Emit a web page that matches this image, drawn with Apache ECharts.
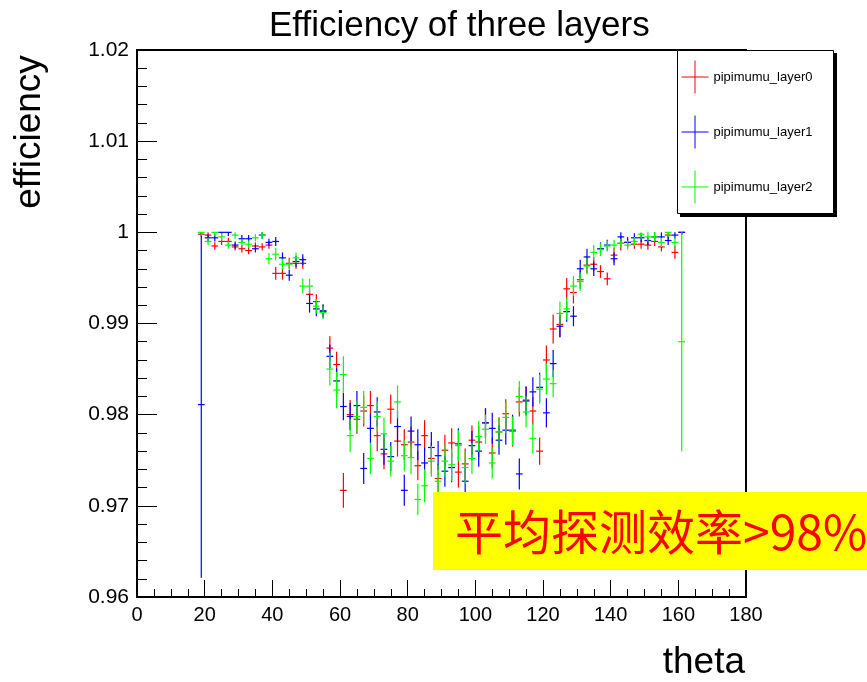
<!DOCTYPE html>
<html>
<head>
<meta charset="utf-8">
<script src="https://cdn.jsdelivr.net/npm/echarts@6/dist/echarts.min.js"></script>
<style>
  html, body { margin: 0; padding: 0; background: #fff; }
  #main { width: 867px; height: 682px; }
</style>
</head>
<body>
<div id="main"></div>
<script>
// theta bin centres (deg)
var theta = [19, 21, 23, 25, 27, 29, 31, 33, 35, 37, 39, 41, 43, 45, 47, 49, 51, 53, 55, 57,
  59, 61, 63, 65, 67, 69, 71, 73, 75, 77, 79, 81, 83, 85, 87, 89, 91, 93, 95, 97,
  99, 101, 103, 105, 107, 109, 111, 113, 115, 117, 119, 121, 123, 125, 127, 129, 131, 133, 135, 137,
  139, 141, 143, 145, 147, 149, 151, 153, 155, 157, 159, 161];

// efficiency, layer 0
var effLayer0 = [0.9998, 0.9997, 0.9985, 0.9990, 0.9990, 0.9984, 0.9982, 0.9980, 0.9985, 0.9984,
  0.9986, 0.9955, 0.9955, 0.9966, 0.9966, 0.9966, 0.9932, 0.9924, 0.9913, 0.9873,
  0.9855, 0.9717, 0.9800, 0.9795, 0.9804, 0.9810, 0.9777, 0.9757, 0.9806, 0.9771,
  0.9767, 0.9770, 0.9744, 0.9777, 0.9752, 0.9730, 0.9761, 0.9769, 0.9737, 0.9746,
  0.9772, 0.9770, 0.9791, 0.9758, 0.9781, 0.9801, 0.9782, 0.9814, 0.9816, 0.9804,
  0.9760, 0.9860, 0.9894, 0.9899, 0.9938, 0.9934, 0.9948, 0.9964, 0.9965, 0.9957,
  0.9949, 0.9975, 0.9988, 0.9989, 0.9987, 0.9987, 0.9986, 0.9990, 0.9984, 0.9997,
  0.9978, 1.0000];
var errLayer0 = [0.0003, 0.0004, 0.0004, 0.0004, 0.0004, 0.0004, 0.0004, 0.0004, 0.0004, 0.0004,
  0.0004, 0.0007, 0.0007, 0.0006, 0.0006, 0.0006, 0.0008, 0.0008, 0.0007, 0.0013,
  0.0014, 0.0019, 0.0016, 0.0016, 0.0017, 0.0016, 0.0017, 0.0017, 0.0016, 0.0017,
  0.0017, 0.0017, 0.0016, 0.0017, 0.0017, 0.0016, 0.0017, 0.0016, 0.0017, 0.0017,
  0.0016, 0.0017, 0.0016, 0.0017, 0.0016, 0.0016, 0.0017, 0.0016, 0.0015, 0.0015,
  0.0015, 0.0016, 0.0016, 0.0014, 0.0012, 0.0012, 0.0010, 0.0009, 0.0008, 0.0007,
  0.0007, 0.0008, 0.0008, 0.0006, 0.0005, 0.0005, 0.0005, 0.0005, 0.0005, 0.0005,
  0.0007, 0.0003];

// efficiency, layer 1
var effLayer1 = [0.9811, 0.9994, 0.9994, 1.0000, 1.0000, 0.9986, 0.9993, 0.9993, 0.9982, 0.9997,
  0.9989, 0.9990, 0.9972, 0.9953, 0.9968, 0.9970, 0.9922, 0.9916, 0.9914, 0.9864,
  0.9837, 0.9809, 0.9798, 0.9810, 0.9741, 0.9785, 0.9803, 0.9762, 0.9754, 0.9787,
  0.9717, 0.9782, 0.9767, 0.9747, 0.9764, 0.9755, 0.9738, 0.9742, 0.9768, 0.9727,
  0.9766, 0.9760, 0.9791, 0.9785, 0.9772, 0.9783, 0.9783, 0.9735, 0.9815, 0.9825,
  0.9830, 0.9802, 0.9856, 0.9897, 0.9913, 0.9908, 0.9960, 0.9973, 0.9960, 0.9982,
  0.9986, 0.9971, 0.9995, 0.9989, 0.9994, 0.9994, 0.9991, 0.9995, 0.9995, 0.9991,
  0.9997, 1.0000];
var errLayer1 = [0.0190, 0.0004, 0.0004, 0.0004, 0.0004, 0.0004, 0.0004, 0.0004, 0.0004, 0.0004,
  0.0004, 0.0005, 0.0006, 0.0006, 0.0006, 0.0006, 0.0010, 0.0008, 0.0007, 0.0013,
  0.0014, 0.0015, 0.0015, 0.0016, 0.0017, 0.0016, 0.0016, 0.0017, 0.0016, 0.0017,
  0.0017, 0.0016, 0.0017, 0.0017, 0.0017, 0.0016, 0.0017, 0.0016, 0.0017, 0.0017,
  0.0016, 0.0017, 0.0016, 0.0017, 0.0016, 0.0016, 0.0017, 0.0017, 0.0016, 0.0016,
  0.0016, 0.0016, 0.0015, 0.0012, 0.0011, 0.0011, 0.0010, 0.0009, 0.0008, 0.0007,
  0.0006, 0.0007, 0.0005, 0.0005, 0.0005, 0.0005, 0.0005, 0.0005, 0.0005, 0.0005,
  0.0004, 0.0003];

// efficiency, layer 2
var effLayer2 = [1.0000, 0.9990, 1.0000, 0.9995, 0.9986, 0.9997, 0.9989, 0.9987, 0.9994, 0.9997,
  0.9971, 0.9976, 0.9965, 0.9965, 0.9972, 0.9941, 0.9941, 0.9919, 0.9912, 0.9850,
  0.9827, 0.9844, 0.9777, 0.9798, 0.9808, 0.9752, 0.9798, 0.9779, 0.9749, 0.9814,
  0.9755, 0.9753, 0.9707, 0.9722, 0.9749, 0.9727, 0.9749, 0.9745, 0.9766, 0.9742,
  0.9752, 0.9776, 0.9784, 0.9747, 0.9781, 0.9797, 0.9782, 0.9820, 0.9803, 0.9774,
  0.9828, 0.9839, 0.9834, 0.9911, 0.9916, 0.9941, 0.9946, 0.9963, 0.9978, 0.9981,
  0.9985, 0.9986, 0.9988, 0.9986, 0.9990, 0.9998, 0.9995, 0.9995, 0.9989, 1.0000,
  0.9989, 0.9880];
var errLayer2 = [0.0004, 0.0004, 0.0004, 0.0004, 0.0004, 0.0004, 0.0004, 0.0004, 0.0004, 0.0004,
  0.0006, 0.0007, 0.0006, 0.0006, 0.0006, 0.0008, 0.0008, 0.0008, 0.0007, 0.0018,
  0.0020, 0.0020, 0.0018, 0.0017, 0.0018, 0.0017, 0.0017, 0.0018, 0.0017, 0.0018,
  0.0017, 0.0018, 0.0017, 0.0018, 0.0017, 0.0018, 0.0017, 0.0018, 0.0017, 0.0018,
  0.0017, 0.0017, 0.0016, 0.0017, 0.0016, 0.0017, 0.0016, 0.0017, 0.0017, 0.0017,
  0.0016, 0.0017, 0.0015, 0.0013, 0.0012, 0.0011, 0.0010, 0.0009, 0.0008, 0.0007,
  0.0006, 0.0006, 0.0005, 0.0005, 0.0005, 0.0005, 0.0005, 0.0005, 0.0005, 0.0005,
  0.0005, 0.0120];

var seriesNames = ['pipimumu_layer0', 'pipimumu_layer1', 'pipimumu_layer2'];
var seriesColors = ['#ff0000', '#0000ff', '#00ff00'];
var yTickLabels = ['0.96', '0.97', '0.98', '0.99', '1', '1.01', '1.02'];
var xTickLabels = ['0', '20', '40', '60', '80', '100', '120', '140', '160', '180'];

var binHalfWidth = 1;
var crossIcon = 'path://M0,16.5L27,16.5M13.5,0L13.5,33';

function buildPoints(eff, err) {
  var out = [];
  for (var i = 0; i < theta.length; i++) {
    out.push([theta[i], eff[i], err[i]]);
  }
  return out;
}

// one cross per bin: horizontal = bin width, vertical = error bar (capped at 1)
function renderCross(params, api) {
  var x = api.value(0), y = api.value(1), e = api.value(2);
  var left = api.coord([x - binHalfWidth, y]);
  var right = api.coord([x + binHalfWidth, y]);
  var bottom = api.coord([x, y - e]);
  var top = api.coord([x, Math.min(y + e, 1)]);
  var style = { stroke: api.visual('color'), lineWidth: 1.2 };
  return {
    type: 'group',
    children: [
      { type: 'line', shape: { x1: left[0], y1: left[1], x2: right[0], y2: right[1] }, style: style },
      { type: 'line', shape: { x1: bottom[0], y1: bottom[1], x2: top[0], y2: top[1] }, style: style }
    ]
  };
}

var allData = [
  buildPoints(effLayer0, errLayer0),
  buildPoints(effLayer1, errLayer1),
  buildPoints(effLayer2, errLayer2)
];

var myChart = echarts.init(document.getElementById('main'));

var option = {
  backgroundColor: '#fff',
  animation: false,
  title: {
    text: 'Efficiency of three layers',
    left: 264,
    top: 4,
    textStyle: { fontSize: 35, fontWeight: 'normal', color: '#000', fontFamily: 'Liberation Sans' }
  },
  legend: {
    orient: 'vertical',
    left: 677,
    top: 50,
    padding: [8, 17, 8, 2],
    itemGap: 17,
    itemWidth: 27,
    itemHeight: 33,
    icon: crossIcon,
    textStyle: { fontSize: 13, color: '#000', fontFamily: 'Liberation Sans' },
    data: seriesNames.map(function (n, k) {
      return {
        name: n,
        itemStyle: { color: 'none', borderColor: seriesColors[k], borderWidth: 1 }
      };
    })
  },
  grid: {
    left: 137,
    right: 121,
    top: 50,
    bottom: 85,
    show: true,
    borderColor: '#000',
    borderWidth: 2,
    backgroundColor: 'transparent'
  },
  xAxis: {
    type: 'value',
    min: 0,
    max: 180,
    interval: 20,
    axisLine: { lineStyle: { color: '#000', width: 2 } },
    axisTick: { inside: true, length: 17, lineStyle: { color: '#000', width: 1 } },
    minorTick: { show: true, splitNumber: 4, length: 8, lineStyle: { color: '#000', width: 1 } },
    splitLine: { show: false },
    axisLabel: {
      fontSize: 20, color: '#000', margin: 8, fontFamily: 'Liberation Sans',
      formatter: function (v) { return xTickLabels[Math.round(v / 20)]; }
    }
  },
  yAxis: {
    type: 'value',
    min: 0.96,
    max: 1.02,
    interval: 0.01,
    axisLine: { lineStyle: { color: '#000', width: 2 } },
    axisTick: { inside: true, length: 20, lineStyle: { color: '#000', width: 1 } },
    minorTick: { show: true, splitNumber: 5, length: 10, lineStyle: { color: '#000', width: 1 } },
    splitLine: { show: false },
    axisLabel: {
      fontSize: 21, color: '#000', margin: 8, fontFamily: 'Liberation Sans',
      formatter: function (v) { return yTickLabels[Math.round((v - 0.96) / 0.01)]; }
    }
  },
  series: seriesNames.map(function (name, k) {
    return {
      name: name,
      type: 'custom',
      renderItem: renderCross,
      itemStyle: { color: seriesColors[k] },
      encode: { x: 0, y: 1 },
      clip: true,
      data: allData[k]
    };
  }),
  graphic: [
    // legend box with ROOT-like drop shadow
    {
      type: 'rect', z: 3,
      shape: { x: 680, y: 53, width: 157, height: 164 },
      style: { fill: '#000' }
    },
    {
      type: 'rect', z: 3,
      shape: { x: 677.5, y: 50.5, width: 156, height: 163 },
      style: { fill: '#fff', stroke: '#000', lineWidth: 1 }
    },
    {
      type: 'text',
      x: 30,
      y: 132,
      rotation: Math.PI / 2,
      style: { text: 'efficiency', fontSize: 37, fill: '#000', fontFamily: 'Liberation Sans', textAlign: 'center', textVerticalAlign: 'middle' }
    },
    {
      type: 'text',
      x: 745,
      y: 663,
      style: { text: 'theta', fontSize: 37, fill: '#000', fontFamily: 'Liberation Sans', textAlign: 'right', textVerticalAlign: 'middle' }
    },
    {
      type: 'rect', z: 100,
      shape: { x: 433, y: 492, width: 434, height: 78 },
      style: { fill: '#ffff00' }
    },
    {
      type: 'text', z: 101,
      x: 455,
      y: 532,
      style: { text: '平均探测效率>98%', fontSize: 48, fill: '#ff0000', fontFamily: 'Noto Sans CJK SC', textVerticalAlign: 'middle' }
    }
  ]
};

myChart.setOption(option);
</script>
</body>
</html>
